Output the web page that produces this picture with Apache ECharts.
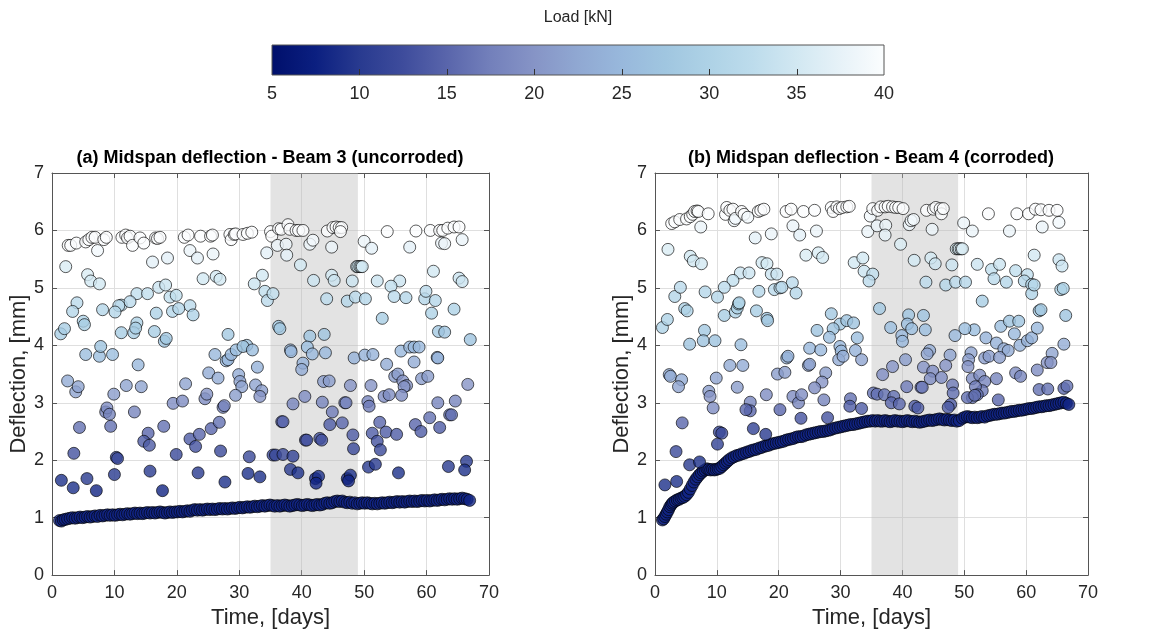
<!DOCTYPE html>
<html><head><meta charset="utf-8">
<script src="https://cdn.jsdelivr.net/npm/echarts@6/dist/echarts.min.js"></script>
<style>html,body{margin:0;padding:0;background:#fff}#c{width:1168px;height:634px}</style>
</head><body><div id="c"></div>
<script>
// ---------------- DATA ----------------
const xTicks = [0, 70, 10];          // min, max, step (days)
const yTicks = [0, 7, 1];            // min, max, step (mm)
const loadTicks = [5, 40, 5];        // colorbar range (kN)
const loadTickValues = [10, 15, 20, 25, 30, 35];
const shadeDays = [35, 49];          // grey band
const baseLoad = 8;                  // colour of the dense baseline points (kN)
const colormap = ['#000f6b','#0b1f80','#283a8f','#3e4c9c','#5965ab','#7380bb','#8694c6','#90a8d2',
                  '#98b8dc','#a0c6e0','#aed2e6','#bddcec','#d2e8f2','#e7f2f8','#fbfdfe'];

// Beam 3 baseline [time, deflection]
const beam3Base = [[1.2,0.95],[1.5,0.94],[1.8,0.96],[2.1,0.97],[2.5,0.98],[2.9,0.99],[3.3,1.00],[3.7,0.99],[4.1,1.00],[4.5,1.01],[4.9,1.00],[5.3,1.01],[5.7,1.02],[6.1,1.01],[6.5,1.02],[6.9,1.03],[7.3,1.02],[7.7,1.04],[8.1,1.03],[8.5,1.04],[8.9,1.05],[9.3,1.04],[9.7,1.05],[10.1,1.04],[10.5,1.05],[10.9,1.06],[11.3,1.05],[11.7,1.06],[12.1,1.07],[12.5,1.06],[12.9,1.07],[13.3,1.08],[13.7,1.07],[14.1,1.08],[14.5,1.07],[14.9,1.08],[15.3,1.09],[15.7,1.08],[16.1,1.09],[16.5,1.08],[16.9,1.09],[17.3,1.10],[17.7,1.09],[18.1,1.08],[18.5,1.09],[18.9,1.10],[19.3,1.09],[19.7,1.10],[20.1,1.10],[20.5,1.11],[20.9,1.10],[21.3,1.11],[21.7,1.12],[22.1,1.11],[22.5,1.13],[22.9,1.14],[23.3,1.13],[23.7,1.14],[24.1,1.13],[24.5,1.14],[24.9,1.15],[25.3,1.14],[25.7,1.15],[26.1,1.14],[26.5,1.15],[26.9,1.16],[27.3,1.15],[27.7,1.16],[28.1,1.15],[28.5,1.16],[28.9,1.17],[29.3,1.16],[29.7,1.17],[30.1,1.18],[30.5,1.17],[30.9,1.18],[31.3,1.19],[31.7,1.18],[32.1,1.19],[32.5,1.20],[32.9,1.19],[33.3,1.20],[33.7,1.21],[34.1,1.20],[34.5,1.21],[34.9,1.22],[35.3,1.21],[35.7,1.20],[36.1,1.21],[36.5,1.20],[36.9,1.21],[37.3,1.22],[37.7,1.21],[38.1,1.20],[38.5,1.21],[38.9,1.22],[39.3,1.23],[39.7,1.22],[40.1,1.21],[40.5,1.22],[40.9,1.23],[41.3,1.22],[41.7,1.21],[42.1,1.22],[42.5,1.23],[42.9,1.22],[43.3,1.23],[43.7,1.25],[44.1,1.26],[44.5,1.25],[44.9,1.26],[45.3,1.28],[45.7,1.29],[46.1,1.28],[46.5,1.29],[46.9,1.27],[47.3,1.26],[47.7,1.27],[48.1,1.25],[48.5,1.26],[48.9,1.24],[49.3,1.25],[49.7,1.26],[50.1,1.25],[50.5,1.26],[50.9,1.25],[51.3,1.24],[51.7,1.25],[52.1,1.24],[52.5,1.25],[52.9,1.26],[53.3,1.25],[53.7,1.26],[54.1,1.27],[54.5,1.26],[54.9,1.27],[55.3,1.28],[55.7,1.27],[56.1,1.28],[56.5,1.27],[56.9,1.28],[57.3,1.29],[57.7,1.28],[58.1,1.29],[58.5,1.28],[58.9,1.29],[59.3,1.30],[59.7,1.29],[60.1,1.30],[60.5,1.29],[60.9,1.30],[61.3,1.31],[61.7,1.30],[62.1,1.31],[62.5,1.32],[62.9,1.31],[63.3,1.32],[63.7,1.33],[64.1,1.32],[64.5,1.33],[64.9,1.32],[65.3,1.33],[65.7,1.34],[66.1,1.33],[66.5,1.32],[66.9,1.30]];

// Beam 3 loaded points [time, deflection, load]
const beam3Points = [
[2.6,5.74,40],[3.0,5.74,40],[3.9,5.78,40],[5.4,5.80,40],[5.9,5.84,40],[6.4,5.88,40],[6.9,5.88,40],[7.3,5.65,39],[8.3,5.84,40],[8.7,5.88,40],
[11.2,5.88,40],[11.8,5.92,40],[12.1,5.87,40],[12.5,5.90,40],[12.9,5.74,40],[14.1,5.87,40],[14.7,5.78,40],[16.6,5.87,40],[16.9,5.86,40],[17.3,5.88,40],
[21.2,5.88,40],[21.8,5.92,40],[23.8,5.90,40],[25.4,5.90,40],[25.7,5.92,40],[28.5,5.93,40],[28.7,5.84,40],[29.2,5.93,40],[29.4,5.94,40],[30.6,5.93,40],[31.3,5.95,40],[32.0,5.97,40],
[35.0,5.98,40],[35.2,5.90,40],[36.3,6.03,40],[36.7,6.02,40],[37.8,6.10,40],[38.1,6.02,40],[39.1,6.00,40],[39.5,6.00,40],[40.2,6.00,40],
[44.1,5.99,40],[45.0,6.05,40],[45.5,6.06,40],[46.0,6.05,40],[46.4,6.05,40],[46.2,5.98,40],[53.7,5.98,40],[58.3,5.99,40],[60.6,6.00,40],[62.1,6.00,40],[62.6,6.00,40],[63.4,6.04,40],[64.4,6.06,40],[65.2,6.06,40],
[36.1,5.74,38],[37.5,5.76,38],[37.6,5.57,37],[34.4,5.61,37],[41.3,5.76,38],[41.8,5.83,39],[44.8,5.71,38],[50.0,5.81,38],[51.2,5.69,37],[57.3,5.71,37],[62.4,5.78,38],[62.9,5.77,38],[65.7,5.84,38],
[2.2,5.37,36],[16.1,5.45,37],[18.5,5.52,37],[22.1,5.65,38],[23.3,5.52,37],[25.8,5.59,38],[39.8,5.40,35],
[48.8,5.37,35],[49.0,5.37,35],[49.3,5.37,35],[49.5,5.37,35],[49.7,5.37,35],
[5.7,5.23,36],[6.2,5.12,35],[7.6,5.07,35],[24.2,5.16,35],[26.3,5.20,35],[26.9,5.15,35],[33.7,5.22,35],[32.4,5.07,34],[41.9,5.13,34],[44.8,5.22,35],[45.2,5.13,34],[48.1,5.12,34],[52.1,5.12,34],[55.7,5.12,34],[61.1,5.29,35],[65.2,5.17,34],[65.7,5.11,34],[54.3,5.03,33],[17.1,5.01,34],[18.2,5.05,34],
[13.6,4.90,33],[15.3,4.90,33],[18.9,4.84,33],[19.9,4.87,33],[34.1,4.94,33],[34.5,4.78,32],[35.4,4.90,33],[44.0,4.81,32],[47.3,4.77,31],[48.6,4.84,32],[50.2,4.81,31],[54.8,4.85,32],[56.7,4.83,31],[59.7,4.81,31],[59.9,4.94,32],[61.4,4.78,31],[4.0,4.74,32],[11.1,4.70,32],[12.5,4.76,32],[10.7,4.69,32],[22.1,4.69,32],
[3.3,4.59,31],[8.1,4.62,31],[10.1,4.58,31],[16.7,4.56,30],[19.3,4.59,31],[20.3,4.64,31],[22.6,4.53,30],[5.0,4.42,30],[5.2,4.36,29],[13.6,4.39,30],[52.9,4.47,29],[60.8,4.56,30],[64.4,4.63,30],
[1.4,4.20,29],[2.0,4.29,29],[11.1,4.22,29],[13.1,4.22,29],[13.4,4.30,29],[16.4,4.24,29],[18.0,4.07,27],[18.3,4.12,28],[28.2,4.19,28],[36.3,4.33,28],[36.5,4.29,28],[41.3,4.16,27],[43.6,4.19,27],[61.9,4.24,28],[62.9,4.23,27],[67.0,4.10,27],[31.2,4.00,27],[40.9,3.97,26],
[5.4,3.84,26],[7.6,3.81,26],[7.8,3.98,27],[9.7,3.84,26],[13.8,3.66,25],[26.1,3.84,25],[27.9,3.73,25],[28.2,3.75,25],[28.7,3.84,25],[29.5,3.92,26],[30.6,3.98,27],[32.1,3.92,26],[38.2,3.92,25],[38.3,3.89,25],[41.7,3.85,25],[43.8,3.87,25],[40.2,3.69,24],[40.0,3.58,23],[32.9,3.62,24],[48.4,3.78,24],[50.1,3.83,24],[51.4,3.84,24],[53.6,3.67,23],[55.9,3.90,25],[57.3,3.97,25],[58.0,3.97,25],[58.8,3.97,25],[58.0,3.71,23],[61.7,3.79,24],[61.8,3.78,24],
[2.5,3.38,23],[3.8,3.19,22],[4.2,3.28,22],[9.9,3.15,21],[11.9,3.30,22],[14.3,3.28,22],[21.4,3.33,22],[25.1,3.52,23],[26.6,3.43,23],[29.9,3.49,23],[30.1,3.37,22],[30.4,3.28,22],[29.4,3.13,21],[32.6,3.31,22],[33.6,3.21,21],[33.3,3.11,20],[43.5,3.37,21],[44.4,3.38,21],[47.8,3.30,20],[51.1,3.30,20],[54.9,3.46,21],[55.4,3.50,21],[56.2,3.38,20],[56.8,3.30,20],[56.4,3.28,20],[59.2,3.42,21],[60.2,3.46,21],[53.2,3.11,19],[54.0,3.14,19],[56.0,3.13,19],[40.5,3.11,19],[66.6,3.32,20],
[8.6,2.84,18],[8.8,2.91,19],[9.2,2.80,18],[13.2,2.84,18],[19.4,2.99,19],[20.9,3.03,19],[24.5,3.07,19],[24.8,3.15,20],[27.4,2.92,18],[27.6,2.95,18],[38.6,2.98,18],[43.3,3.01,18],[46.9,3.00,18],[47.1,3.00,18],[44.9,2.84,17],[50.6,3.02,18],[50.8,2.94,17],[61.8,3.00,18],[64.6,3.03,18],[60.5,2.74,16],[63.7,2.79,16],[64.0,2.79,16],
[4.4,2.57,16],[9.4,2.59,16],[15.4,2.47,15],[17.9,2.59,16],[22.1,2.37,14],[23.6,2.45,15],[25.5,2.55,15],[26.8,2.66,16],[14.7,2.33,14],[36.8,2.67,15],[37.0,2.67,15],[44.5,2.62,14],[46.5,2.65,15],[52.5,2.66,15],[53.5,2.49,14],[51.3,2.47,14],[52.1,2.33,13],[55.2,2.45,14],[58.2,2.62,15],[59.1,2.50,14],[62.1,2.57,14],[48.2,2.44,14],[40.6,2.35,13],[40.8,2.35,13],[42.9,2.38,13],[43.2,2.35,13],
[3.5,2.12,13],[10.3,2.05,12],[10.5,2.03,12],[15.6,2.26,14],[19.9,2.10,12],[23.0,2.24,13],[27.0,2.16,12],[31.6,2.06,12],[35.4,2.09,12],[35.8,2.09,12],[37.0,2.10,12],[38.6,2.07,11],[52.6,2.18,12],[48.3,2.20,12],[50.7,1.88,10],[51.8,1.93,10],[63.5,1.89,10],[66.4,1.98,10],
[1.5,1.65,9],[3.4,1.52,9],[5.6,1.68,10],[7.1,1.47,8],[10.0,1.75,10],[15.7,1.81,10],[17.7,1.47,8],[23.4,1.78,10],[27.7,1.62,9],[31.4,1.77,9],[33.3,1.71,9],[38.2,1.84,10],[39.4,1.78,9],[42.2,1.68,8],[42.7,1.72,9],[42.3,1.60,8],[47.3,1.68,8],[47.8,1.74,9],[47.5,1.64,8],[55.5,1.78,9],[66.1,1.83,9]
];

// Beam 4 baseline [time, deflection]
const beam4Base = [[1.2,0.96],[1.4,0.98],[1.6,1.02],[1.8,1.06],[2.0,1.10],[2.2,1.14],[2.4,1.19],[2.6,1.22],[2.8,1.25],[3.0,1.27],[3.3,1.29],[3.6,1.31],[3.9,1.32],[4.2,1.34],[4.5,1.35],[4.8,1.37],[5.1,1.40],[5.4,1.44],[5.7,1.50],[6.0,1.56],[6.3,1.62],[6.6,1.67],[6.9,1.71],[7.2,1.75],[7.5,1.78],[7.8,1.81],[8.1,1.83],[8.4,1.85],[8.7,1.84],[9.0,1.83],[9.3,1.84],[9.6,1.83],[9.9,1.84],[10.2,1.85],[10.5,1.86],[10.8,1.89],[11.1,1.92],[11.4,1.95],[11.7,1.98],[12.0,2.01],[12.4,2.04],[12.8,2.06],[13.2,2.08],[13.6,2.09],[14.0,2.11],[14.4,2.12],[14.8,2.14],[15.2,2.15],[15.6,2.17],[16.0,2.18],[16.4,2.19],[16.8,2.21],[17.2,2.22],[17.6,2.24],[18.0,2.25],[18.4,2.26],[18.8,2.28],[19.2,2.29],[19.6,2.30],[20.0,2.31],[20.4,2.32],[20.8,2.33],[21.2,2.35],[21.6,2.36],[22.0,2.37],[22.4,2.38],[22.8,2.40],[23.2,2.41],[23.6,2.41],[24.0,2.42],[24.4,2.44],[24.8,2.45],[25.2,2.46],[25.6,2.47],[26.0,2.48],[26.4,2.49],[26.8,2.50],[27.2,2.50],[27.6,2.51],[28.0,2.52],[28.4,2.53],[28.8,2.55],[29.2,2.56],[29.6,2.57],[30.0,2.58],[30.4,2.59],[30.8,2.60],[31.2,2.61],[31.6,2.62],[32.0,2.62],[32.4,2.63],[32.8,2.64],[33.2,2.65],[33.6,2.66],[34.0,2.67],[34.4,2.68],[34.8,2.68],[35.2,2.69],[35.6,2.68],[36.0,2.69],[36.4,2.68],[36.8,2.68],[37.2,2.69],[37.6,2.68],[38.0,2.67],[38.4,2.68],[38.8,2.69],[39.2,2.68],[39.6,2.68],[40.0,2.67],[40.4,2.68],[40.8,2.69],[41.2,2.68],[41.6,2.67],[42.0,2.68],[42.4,2.67],[42.8,2.66],[43.2,2.67],[43.6,2.68],[44.0,2.69],[44.4,2.70],[44.8,2.69],[45.2,2.70],[45.6,2.71],[46.0,2.72],[46.4,2.71],[46.8,2.70],[47.2,2.71],[47.6,2.70],[48.0,2.69],[48.4,2.70],[48.8,2.68],[49.2,2.69],[49.7,2.73],[50.1,2.75],[50.5,2.76],[50.9,2.75],[51.3,2.74],[51.7,2.75],[52.1,2.74],[52.5,2.75],[52.9,2.76],[53.3,2.75],[53.7,2.77],[54.1,2.78],[54.5,2.79],[54.9,2.80],[55.3,2.80],[55.7,2.81],[56.1,2.82],[56.5,2.82],[56.9,2.83],[57.3,2.84],[57.7,2.85],[58.1,2.85],[58.5,2.86],[58.9,2.87],[59.3,2.87],[59.7,2.88],[60.1,2.89],[60.5,2.90],[60.9,2.90],[61.3,2.91],[61.7,2.92],[62.1,2.93],[62.5,2.93],[62.9,2.94],[63.3,2.95],[63.7,2.95],[64.1,2.96],[64.5,2.97],[64.9,2.98],[65.3,2.99],[65.7,3.00],[66.1,3.01],[66.5,2.99],[66.9,2.97]];

// Beam 4 loaded points [time, deflection, load]
const beam4Points = [
[2.7,6.12,40],[3.2,6.15,40],[4.0,6.19,40],[5.1,6.20,40],[5.7,6.24,40],[6.1,6.28,40],[6.4,6.33,40],[6.8,6.34,40],[7.0,6.33,40],[7.4,6.06,38],[8.6,6.29,40],
[11.4,6.28,40],[11.6,6.40,40],[12.1,6.35,40],[12.6,6.37,40],[12.8,6.17,39],[13.0,6.21,39],[14.0,6.33,40],[14.4,6.28,40],[15.0,6.23,39],
[16.7,6.33,40],[17.1,6.35,40],[17.6,6.37,40],[21.2,6.33,40],[22.0,6.37,40],[22.3,6.08,38],[24.0,6.33,40],[25.8,6.35,40],[26.1,5.99,38],
[28.5,6.40,40],[28.8,6.33,40],[29.4,6.41,40],[29.8,6.38,40],[30.3,6.40,40],[31.0,6.41,40],[31.4,6.42,40],
[34.8,6.25,39],[35.2,6.38,40],[36.0,6.35,40],[36.5,6.41,40],[37.2,6.41,40],[37.7,6.42,40],[38.4,6.41,40],[38.9,6.40,40],[39.4,6.40,40],[40.1,6.38,40],
[41.1,6.10,38],[41.4,6.17,39],[41.8,6.19,39],[43.9,6.35,40],[45.0,6.37,40],[45.4,6.40,40],[46.1,6.38,40],[46.3,6.29,40],[46.6,6.38,40],
[49.9,6.13,38],[51.3,5.99,38],[53.9,6.29,40],[57.3,5.99,38],[58.5,6.29,40],[60.4,6.29,40],[61.5,6.37,40],[62.4,6.36,40],[63.7,6.35,40],[65.0,6.35,40],[62.6,6.06,38],[65.3,6.14,39],
[34.4,5.98,38],[35.9,6.08,38],[37.3,6.09,38],[37.2,5.92,37],[39.7,5.76,36],[44.8,6.02,38],[16.2,5.87,37],[18.8,5.94,38],[23.4,5.92,37],
[2.1,5.67,36],[5.7,5.55,35],[6.2,5.47,35],[7.5,5.42,35],[17.3,5.44,35],[18.1,5.42,35],[18.8,5.24,34],[19.7,5.24,34],[13.8,5.26,34],[15.2,5.26,34],[24.4,5.57,36],[26.4,5.61,36],[27.1,5.53,35],[41.9,5.48,35],[44.6,5.52,35],[45.3,5.42,34],[48.0,5.40,34],[32.2,5.44,35],[33.6,5.52,35],[33.8,5.29,34],[35.2,5.24,33],[52.1,5.41,34],[54.4,5.32,33],[55.7,5.41,34],[58.3,5.30,33],[60.2,5.23,33],[61.3,5.57,35],[65.3,5.49,34],[65.8,5.38,34],
[48.7,5.68,36],[49.0,5.68,36],[49.2,5.68,36],[49.5,5.68,36],[49.7,5.68,36],
[12.6,5.13,33],[11.2,5.01,32],[10.1,4.84,31],[22.2,5.09,32],[22.8,4.91,31],[19.3,4.97,32],[20.2,5.00,32],[20.5,5.01,32],[16.8,4.94,31],[3.2,4.85,31],[4.1,5.01,32],[8.1,4.93,31],[34.6,5.12,32],[43.8,5.10,32],[47.0,5.05,31],[48.6,5.10,32],[50.2,5.10,31],[54.8,5.16,32],[56.8,5.10,31],[52.9,4.77,29],[59.7,5.12,31],[60.9,5.06,31],[60.9,4.90,30],[61.3,5.05,31],[65.6,4.97,30],[66.0,4.99,30],
[4.8,4.64,30],[5.2,4.60,30],[1.2,4.31,30],[2.0,4.45,30],[11.2,4.52,29],[13.0,4.58,30],[13.3,4.65,30],[13.5,4.72,30],[13.6,4.74,30],[16.4,4.60,29],[18.1,4.47,28],[18.2,4.43,28],[28.5,4.55,28],[29.9,4.37,28],[28.8,4.29,27],[36.3,4.64,28],[41.0,4.53,27],[40.8,4.37,26],[43.4,4.52,27],[31.0,4.43,27],[32.1,4.39,27],[51.6,4.27,26],[50.1,4.29,26],[55.9,4.33,26],[57.3,4.42,27],[58.8,4.42,27],[62.1,4.60,28],[62.4,4.62,28],[66.4,4.52,27],[41.5,4.29,26],[43.7,4.27,26],[38.1,4.31,26],
[8.0,4.26,28],[7.8,4.08,27],[9.7,4.08,27],[5.6,4.02,27],[13.9,4.01,26],[28.2,4.14,26],[26.2,4.26,27],[29.9,3.98,25],[30.1,3.90,25],[25.0,3.95,25],[26.8,3.92,25],[32.7,4.13,26],[32.4,3.91,24],[39.9,4.17,25],[40.0,4.07,25],[48.5,4.17,25],[53.5,4.13,24],[58.1,4.20,25],[55.2,4.04,24],[56.4,3.94,23],[57.1,3.91,23],[59.0,4.00,24],[60.2,4.08,24],[60.9,4.13,24],[61.8,4.30,25],[44.4,3.91,23],[66.1,4.02,23],[64.2,3.86,22],
[29.7,3.75,23],[21.3,3.78,24],[21.5,3.81,24],[24.8,3.65,22],[25.0,3.67,22],[27.6,3.52,21],[19.8,3.50,21],[21.0,3.53,21],[12.1,3.65,23],[14.2,3.65,23],[9.9,3.43,22],[2.3,3.49,23],[2.5,3.46,23],[4.3,3.40,23],[30.4,3.81,23],[33.4,3.75,22],[44.0,3.85,22],[51.1,3.87,22],[50.7,3.75,21],[50.6,3.63,20],[53.3,3.78,21],[54.0,3.81,21],[55.7,3.79,21],[47.7,3.83,22],[47.0,3.65,20],[40.5,3.75,21],[38.4,3.63,20],[36.8,3.49,19],[43.4,3.62,20],[44.9,3.55,19],[63.4,3.70,20],[64.0,3.70,20],[61.8,3.57,19],[58.3,3.52,19],[59.1,3.46,18],
[3.8,3.28,22],[8.7,3.20,21],[8.9,3.11,20],[9.4,2.91,19],[13.3,3.27,21],[18.0,3.14,19],[15.4,3.01,18],[22.3,3.11,19],[23.2,3.00,18],[23.7,3.14,19],[27.0,3.36,20],[25.8,3.26,19],[27.3,3.05,18],[44.5,3.42,19],[46.3,3.44,19],[51.3,3.42,19],[52.5,3.48,19],[53.3,3.37,18],[52.9,3.21,17],[51.8,3.28,17],[52.1,3.14,16],[51.3,3.09,16],[55.2,3.42,18],[40.7,3.28,17],[43.0,3.27,17],[43.2,3.27,17],[48.1,3.31,17],[48.2,3.17,16],[35.3,3.17,16],[35.9,3.15,16],[37.1,3.14,16],[38.6,3.11,16],[38.2,3.00,15],[39.5,2.98,15],[31.6,3.07,16],[50.5,3.09,16],[51.7,3.13,16],[55.5,3.05,15],[62.1,3.23,16],[63.5,3.24,16],[66.1,3.25,15],[66.6,3.29,16],
[15.4,2.86,15],[14.7,2.88,15],[20.2,2.88,15],[23.6,2.73,13],[27.9,2.74,13],[31.5,2.94,14],[33.4,2.90,14],[42.0,2.94,14],[42.5,2.91,14],[47.8,2.97,14],[47.4,2.92,14],
[4.4,2.65,15],[10.4,2.49,12],[10.8,2.47,12],[10.1,2.28,11],[15.9,2.55,11],[17.9,2.45,10],[3.4,2.15,12],[5.6,1.92,10],[7.2,1.97,9],[1.6,1.57,9],[3.5,1.63,9]
];

// ---------------- CHART ----------------
const FONT = '"Liberation Sans", Arial, Helvetica, sans-serif';
const TXT = '#262626';
const AX = '#555555';
const GRIDC = '#dfdfdf';
const withLoad = (arr) => arr.map(p => [p[0], p[1], baseLoad]);

const grids = [
  {left: 52, top: 173, width: 437, height: 403},
  {left: 655, top: 173, width: 433, height: 403},
  {left: 272, top: 45, width: 612, height: 30}
];

function xBottom(g) {
  return {type:'value', gridIndex:g, min:xTicks[0], max:xTicks[1], interval:xTicks[2], position:'bottom',
    axisLine:{show:true, onZero:false, lineStyle:{color:AX, width:1}},
    axisTick:{show:true, inside:true, length:5, lineStyle:{color:AX}},
    axisLabel:{fontSize:18, color:TXT, fontFamily:FONT, margin:9},
    splitLine:{show:true, lineStyle:{color:GRIDC, width:1}},
    name:'Time, [days]', nameLocation:'middle', nameGap:31,
    nameTextStyle:{fontSize:22, color:TXT, fontFamily:FONT}};
}
function xTop(g) {
  return {type:'value', gridIndex:g, min:xTicks[0], max:xTicks[1], interval:xTicks[2], position:'top',
    axisLine:{show:true, onZero:false, lineStyle:{color:AX, width:1}},
    axisTick:{show:true, inside:true, length:5, lineStyle:{color:AX}},
    axisLabel:{show:false}, splitLine:{show:false}};
}
function yLeft(g) {
  return {type:'value', gridIndex:g, min:yTicks[0], max:yTicks[1], interval:yTicks[2], position:'left',
    axisLine:{show:true, onZero:false, lineStyle:{color:AX, width:1}},
    axisTick:{show:true, inside:true, length:5, lineStyle:{color:AX}},
    axisLabel:{fontSize:18, color:TXT, fontFamily:FONT, margin:8},
    splitLine:{show:true, lineStyle:{color:GRIDC, width:1}},
    name:'Deflection, [mm]', nameLocation:'middle', nameGap:18, nameRotate:90,
    nameTextStyle:{fontSize:22, color:TXT, fontFamily:FONT}};
}
function yRight(g) {
  return {type:'value', gridIndex:g, min:yTicks[0], max:yTicks[1], interval:yTicks[2], position:'right',
    axisLine:{show:true, onZero:false, lineStyle:{color:AX, width:1}},
    axisTick:{show:true, inside:true, length:5, lineStyle:{color:AX}},
    axisLabel:{show:false}, splitLine:{show:false}};
}

const pointStyle = {borderColor:'rgba(0,0,0,0.8)', borderWidth:1};
function shadeSeries(x, y) {
  return {type:'scatter', xAxisIndex:x, yAxisIndex:y, data:[], z:1, silent:true,
    markArea:{silent:true, itemStyle:{color:'rgba(185,185,185,0.40)'},
      data:[[{xAxis:shadeDays[0]},{xAxis:shadeDays[1]}]]}};
}
function scatter(x, y, data) {
  return {type:'scatter', xAxisIndex:x, yAxisIndex:y, data:data, symbol:'circle', symbolSize:12,
    itemStyle:pointStyle, z:3, silent:true};
}

const stops = colormap.map((c, i) => ({offset: i / (colormap.length - 1), color: c}));

const option = {
  animation:false,
  backgroundColor:'#ffffff',
  textStyle:{fontFamily:FONT},
  grid: grids,
  xAxis: [xBottom(0), xTop(0), xBottom(1), xTop(1),
    {type:'value', gridIndex:2, min:loadTicks[0], max:loadTicks[1], interval:loadTicks[2], position:'bottom',
     axisLine:{show:false}, axisTick:{show:false},
     axisLabel:{fontSize:18, color:TXT, fontFamily:FONT, margin:10}, splitLine:{show:false}}],
  yAxis: [yLeft(0), yRight(0), yLeft(1), yRight(1),
    {type:'value', gridIndex:2, min:0, max:1, show:false}],
  visualMap: [{type:'continuous', show:false, min:loadTicks[0], max:loadTicks[1], dimension:2,
    seriesIndex:[1,2,4,5], inRange:{color:colormap}}],
  series: [
    shadeSeries(0, 0),
    scatter(0, 0, withLoad(beam3Base)),
    scatter(0, 0, beam3Points),
    shadeSeries(2, 2),
    scatter(2, 2, withLoad(beam4Base)),
    scatter(2, 2, beam4Points),
    {type:'custom', xAxisIndex:4, yAxisIndex:4, silent:true, z:2,
     data:[[loadTicks[0], loadTicks[1]]], encode:{x:[0,1]},
     renderItem: function (params, api) {
       const p0 = api.coord([api.value(0), 1]);
       const p1 = api.coord([api.value(1), 0]);
       const children = [{type:'rect', shape:{x:p0[0], y:p0[1], width:p1[0]-p0[0], height:p1[1]-p0[1]},
         style:{fill:new echarts.graphic.LinearGradient(0,0,1,0,stops), stroke:AX, lineWidth:1}}];
       loadTickValues.forEach(v => {
         const b = api.coord([v, 0]);
         children.push({type:'line', shape:{x1:Math.round(b[0])+0.5, y1:b[1], x2:Math.round(b[0])+0.5, y2:b[1]-6},
           style:{stroke:'#333', lineWidth:1}});
       });
       return {type:'group', children:children};
     }}
  ],
  graphic: [
    {type:'text', x:578, y:18, style:{text:'Load [kN]', font:'16px '+FONT, fill:TXT, textAlign:'center', textVerticalAlign:'middle', align:'center', verticalAlign:'middle'}},
    {type:'text', x:270, y:158, style:{text:'(a) Midspan deflection - Beam 3 (uncorroded)', font:'bold 18px '+FONT, fill:'#000', textAlign:'center', textVerticalAlign:'middle', align:'center', verticalAlign:'middle'}},
    {type:'text', x:871, y:158, style:{text:'(b) Midspan deflection - Beam 4 (corroded)', font:'bold 18px '+FONT, fill:'#000', textAlign:'center', textVerticalAlign:'middle', align:'center', verticalAlign:'middle'}}
  ]
};

const chart = echarts.init(document.getElementById('c'), null, {renderer:'canvas'});
chart.setOption(option);
</script></body></html>
